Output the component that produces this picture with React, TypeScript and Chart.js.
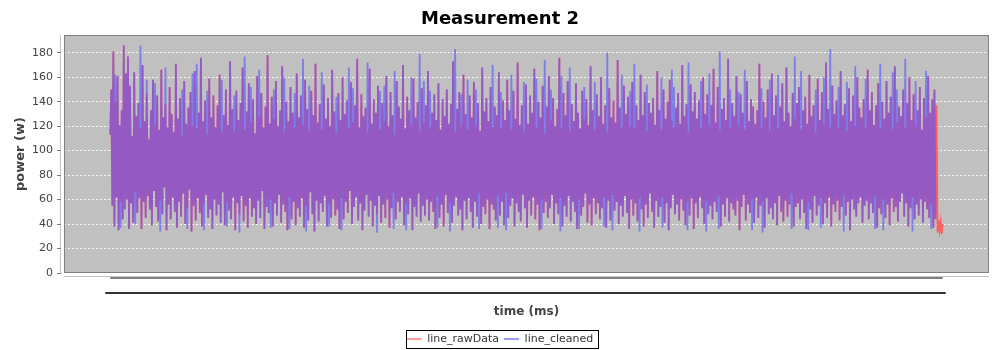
import React, { useEffect, useRef } from 'react';
import { Chart, registerables } from 'chart.js';

Chart.register(...registerables);

const chartTitle = 'Measurement 2';
const xAxisTitle = 'time (ms)';
const yAxisTitle = 'power (w)';
const seriesNames = ['line_rawData', 'line_cleaned'];
const yTickStep = 20;
const yMin = 0;
const yMax = 194.5;

const rawData: number[] = [
  113,150,55,181,38,140,62,161,35,121,58,133,44,186,52,163,60,177,36,153,
  57,112,41,164,66,128,49,139,61,118,36,170,58,124,45,147,63,109,52,133,
  39,158,67,121,54,145,42,117,59,166,48,127,70,138,35,119,56,152,44,130,
  62,115,50,171,37,126,58,143,46,112,65,157,40,122,53,135,68,148,34,120,
  55,165,43,118,61,131,49,176,38,124,57,141,64,113,45,159,52,127,36,145,
  60,119,47,137,56,162,41,115,66,129,39,150,58,121,51,173,44,134,62,116,
  35,149,57,125,48,139,63,168,42,117,55,132,37,155,61,123,46,142,53,114,
  40,161,59,128,45,147,67,119,36,136,54,178,49,122,60,144,38,126,57,157,
  47,120,64,133,41,169,56,115,50,140,35,124,62,152,44,131,58,118,39,163,
  53,127,46,145,61,121,37,158,55,134,43,116,66,149,48,129,34,171,59,123,
  42,138,57,117,50,154,63,126,38,143,56,120,45,166,60,132,47,114,52,147,
  36,125,61,160,44,130,58,141,49,118,67,156,40,123,54,137,62,175,43,119,
  57,146,35,128,51,135,64,115,46,167,59,122,38,142,55,131,48,153,63,117,
  41,139,56,124,45,161,60,120,37,148,53,129,66,113,44,157,58,136,50,126,
  62,170,39,118,57,144,48,133,61,121,35,159,54,127,46,140,65,116,42,151,
  55,123,47,137,60,165,43,119,58,131,50,146,36,125,63,155,45,117,56,142,
  38,128,64,150,49,122,57,138,41,173,55,115,62,134,47,148,52,120,35,162,
  59,130,44,117,61,145,50,127,37,156,58,121,46,139,65,116,40,168,54,132,
  48,143,60,124,36,152,56,119,52,136,43,129,63,164,47,118,58,141,39,125,
  66,158,45,133,55,117,61,149,38,126,57,172,50,121,42,137,64,115,53,154,
  37,122,59,145,47,131,62,167,44,118,56,140,35,127,60,153,49,114,58,136,
  45,161,53,125,64,143,40,120,57,134,48,176,61,119,38,147,55,129,46,157,
  63,116,42,138,58,124,50,155,36,131,60,118,47,149,54,126,65,142,41,121,
  56,169,39,133,61,117,48,146,57,128,44,160,53,122,62,137,37,115,59,151,
  43,127,64,141,51,123,58,174,40,135,55,119,46,153,63,130,49,144,36,120,
  60,156,47,118,57,137,42,125,61,162,52,129,38,148,56,116,45,139,65,131,
  50,143,37,121,59,165,46,133,54,117,62,150,41,126,57,140,35,158,53,124,
  64,119,48,135,56,147,43,122,60,170,51,128,39,138,58,115,47,154,61,132,
  36,148,57,126,45,141,62,118,53,160,40,130,59,146,48,121,55,137,44,167,
  58,123,50,152,63,117,38,134,56,143,46,125,61,175,42,119,57,139,52,128,
  47,161,59,120,35,146,54,131,64,117,43,157,56,124,49,142,60,136,41,122,
  62,133,45,171,55,119,58,140,37,127,61,150,48,116,53,163,44,129,57,145,
  39,118,63,136,50,155,42,124,59,168,46,131,56,120,65,147,38,126,54,139,
  57,152,44,117,60,133,49,144,36,122,58,162,52,128,41,137,63,115,47,159,
  55,125,61,148,40,121,57,172,45,134,62,119,38,153,56,130,50,141,59,118,
  43,165,54,129,64,138,47,116,58,151,35,124,60,145,52,120,46,160,57,135,
  62,127,41,142,55,119,59,166,44,133,57,148,49,121,63,137,37,155,53,118,
  48,140,60,126,45,157,56,131,39,144,61,117,50,169,54,123,42,136,58,128,
  65,150,46,119,57,139,38,160,53,125,62,146,44,121,56,133,47,152,60,117,
  41,143,58,127,52,161,45,131,56,142,37,150,44,137,33,43,35,42,32,40,
];

const cleanedData: number[] = [
  113,150,55,181,38,162,62,161,35,121,37,133,44,186,52,163,60,177,36,153,
  57,112,41,164,40,128,49,139,61,186,36,170,58,124,45,158,63,109,52,133,
  39,158,67,155,54,145,42,117,34,166,48,127,70,168,35,119,56,152,44,130,
  62,115,50,171,37,126,58,143,46,150,65,157,40,122,36,135,68,148,34,163,
  55,165,43,171,61,131,49,176,38,124,35,141,64,149,45,159,52,127,36,145,
  60,119,47,137,56,162,41,158,66,129,39,150,38,121,51,173,44,134,62,145,
  35,149,57,125,33,139,63,168,42,177,55,132,37,155,61,152,46,142,53,114,
  40,161,59,166,45,147,67,119,36,136,54,178,49,122,37,144,38,150,57,157,
  47,120,64,133,41,169,56,160,50,140,35,124,36,152,44,131,58,147,39,163,
  53,127,46,145,61,175,37,158,34,134,43,153,66,149,48,129,34,171,59,123,
  42,138,57,164,50,154,63,126,38,143,38,120,45,166,60,132,47,144,52,147,
  36,125,35,160,44,130,58,141,49,168,67,156,40,151,54,137,62,175,43,119,
  57,146,35,128,51,135,64,172,46,167,59,122,38,142,55,131,33,153,63,149,
  41,139,56,153,45,161,60,120,37,148,53,129,36,165,44,157,58,136,50,126,
  62,170,39,118,35,144,48,133,61,160,35,159,54,127,46,140,65,179,42,151,
  55,157,47,137,60,165,43,149,58,131,50,146,36,125,37,155,45,117,56,142,
  38,128,64,150,49,122,34,138,41,173,55,183,62,134,47,148,52,146,35,162,
  59,130,44,158,61,145,50,127,37,156,58,150,46,139,36,116,40,168,54,132,
  48,143,60,124,36,152,56,170,52,136,43,129,37,164,47,148,58,141,39,125,
  35,158,45,133,55,162,61,149,38,126,57,172,50,121,42,137,64,156,53,154,
  37,122,59,145,47,131,62,167,44,159,56,140,35,127,36,153,49,174,58,136,
  45,161,53,150,64,143,40,120,57,134,48,176,34,161,38,147,55,129,46,157,
  63,168,42,138,58,124,50,155,36,131,36,118,47,149,54,152,65,142,41,121,
  56,169,39,133,61,156,48,146,57,128,44,160,53,122,38,137,37,180,59,151,
  43,127,35,141,51,123,58,174,40,135,55,162,46,153,63,130,49,144,36,149,
  60,156,47,171,57,137,42,125,34,162,52,129,38,148,56,154,45,139,65,131,
  50,143,37,121,59,165,46,133,54,160,37,150,41,126,57,140,35,158,53,166,
  64,152,48,135,56,147,43,122,60,170,51,128,39,138,35,172,47,154,61,132,
  36,148,57,126,45,141,62,157,53,160,40,130,34,146,48,163,55,137,44,167,
  58,123,50,152,36,181,38,134,56,143,46,125,61,175,42,150,57,139,52,128,
  47,161,59,148,35,146,54,131,64,166,43,157,56,124,49,142,35,136,41,122,
  62,133,45,171,55,151,33,140,37,127,61,150,48,158,53,163,44,129,57,145,
  39,162,63,136,50,155,42,124,59,168,46,131,56,120,36,147,38,177,54,139,
  57,152,44,165,60,133,49,144,36,122,35,162,52,128,41,137,63,150,47,159,
  55,125,37,148,40,160,57,172,45,134,62,183,38,153,56,130,50,141,59,152,
  43,165,54,129,34,138,47,156,58,151,35,124,60,145,52,169,46,160,57,135,
  62,127,41,142,55,159,59,166,44,133,57,148,49,121,36,137,37,155,53,171,
  48,140,35,126,45,157,56,131,39,144,61,164,50,169,54,150,42,136,58,128,
  65,150,46,175,57,139,38,160,53,125,34,146,44,157,56,133,47,152,60,117,
  41,143,58,165,52,161,45,131,36,142,37,150,44,
];

const seriesLineColors = ['rgba(255,85,85,0.9)', 'rgba(85,85,255,0.62)'];
const seriesLegendColors = ['#ff9a9a', '#9a9aff'];

export default function App() {
  const ref = useRef<HTMLCanvasElement>(null);

  useEffect(() => {
    document.body.style.margin = '0';
    document.body.style.overflow = 'hidden';
    const canvas = ref.current;
    if (!canvas) return;

    const lastIndex = rawData.length - 1;
    const xMargin = (lastIndex * 0.05) / 0.9;

    const decor = {
      id: 'decor',
      beforeDraw(chart: any) {
        const { ctx, chartArea: a } = chart;
        ctx.save();
        ctx.fillStyle = '#C0C0C0';
        ctx.fillRect(a.left, a.top, a.right - a.left, a.bottom - a.top);
        ctx.restore();
      },
      afterDraw(chart: any) {
        const { ctx, chartArea: a, scales } = chart;
        const xs = scales.x;
        const ys = scales.y;
        ctx.save();
        ctx.lineWidth = 1;
        ctx.setLineDash([]);
        ctx.strokeStyle = '#808080';
        ctx.strokeRect(a.left + 0.5, a.top + 0.5, a.right - a.left - 1, a.bottom - a.top - 1);
        ctx.strokeStyle = '#c4c4c4';
        ctx.beginPath();
        ctx.moveTo(a.left - 3.5, a.top);
        ctx.lineTo(a.left - 3.5, a.bottom);
        ctx.stroke();
        ctx.strokeStyle = '#808080';
        ctx.beginPath();
        ys.ticks.forEach((t: any) => {
          const y = Math.round(ys.getPixelForValue(t.value) - 0.5) + 0.5;
          ctx.moveTo(a.left - 7, y);
          ctx.lineTo(a.left - 3, y);
        });
        ctx.stroke();
        ctx.strokeStyle = '#c4c4c4';
        ctx.beginPath();
        ctx.moveTo(a.left, a.bottom + 3.5);
        ctx.lineTo(a.right, a.bottom + 3.5);
        ctx.stroke();
        const x0 = xs.getPixelForValue(0);
        const x1 = xs.getPixelForValue(lastIndex);
        ctx.fillStyle = '#808080';
        ctx.fillRect(x0, a.bottom + 4, x1 - x0, 2);
        ctx.fillStyle = '#333333';
        ctx.fillRect(x0 - 5, a.bottom + 19, x1 - x0 + 8, 2);
        const hb = chart.legend && chart.legend.legendHitBoxes;
        if (hb && hb.length) {
          const left = Math.min(...hb.map((h: any) => h.left));
          const right = Math.max(...hb.map((h: any) => h.left + h.width));
          const top = hb[0].top;
          ctx.strokeStyle = '#000000';
          ctx.strokeRect(Math.round(left - 1) + 0.5, Math.round(top - 3.5) + 0.5, Math.round(right - left + 5), 18);
        }
        ctx.restore();
      },
    };

    Chart.defaults.font.family = "'DejaVu Sans', sans-serif";

    const chart = new Chart(canvas, {
      type: 'line',
      data: {
        datasets: [
          {
            label: seriesNames[0],
            data: rawData.map((y, i) => ({ x: i, y })),
            borderColor: seriesLineColors[0],
            backgroundColor: seriesLegendColors[0],
            borderWidth: 1.8,
            pointRadius: 0,
            tension: 0,
            fill: false,
            order: 2,
            yAxisID: 'y',
          },
          {
            label: seriesNames[1],
            data: cleanedData.map((y, i) => ({ x: i, y })),
            borderColor: seriesLineColors[1],
            backgroundColor: seriesLegendColors[1],
            borderWidth: 1.8,
            pointRadius: 0,
            tension: 0,
            fill: false,
            order: 1,
            yAxisID: 'y',
          },
        ],
      },
      options: {
        responsive: false,
        animation: false,
        devicePixelRatio: 1,
        events: [],
        layout: { padding: { top: 0, left: 0, right: 0, bottom: -4.5 } },
        scales: {
          x: {
            type: 'linear',
            min: -xMargin,
            max: lastIndex + xMargin,
            ticks: { display: false },
            grid: { display: false },
            border: { display: false },
            title: {
              display: true,
              text: xAxisTitle,
              color: '#444444',
              font: { size: 12, weight: 'bold' },
              padding: { top: 0, bottom: 9.3 },
            },
            afterFit: (s: any) => {
              s.height = 55.5;
            },
          },
          y: {
            type: 'linear',
            position: 'left',
            min: yMin,
            max: yMax,
            ticks: {
              stepSize: yTickStep,
              includeBounds: false,
              color: '#444444',
              font: { size: 11 },
              padding: 11,
            },
            grid: {
              color: 'rgba(255,255,255,0.85)',
              lineWidth: 1,
              drawTicks: false,
            },
            border: { display: false, dash: [2, 2] },
            title: {
              display: true,
              text: yAxisTitle,
              color: '#444444',
              font: { size: 13, weight: 'bold' },
              padding: { top: 13, bottom: 0 },
            },
            afterFit: (s: any) => {
              s.width = 64;
            },
          },
          y2: {
            type: 'linear',
            position: 'right',
            display: true,
            ticks: { display: false },
            grid: { display: false },
            border: { display: false },
            afterFit: (s: any) => {
              s.width = 11;
            },
          },
        },
        plugins: {
          title: {
            display: true,
            text: chartTitle,
            color: '#000000',
            font: { size: 18, weight: 'bold' },
            padding: { top: 9, bottom: 4.4 },
          },
          legend: {
            display: true,
            position: 'bottom',
            labels: {
              boxWidth: 15,
              boxHeight: 2,
              padding: 5,
              color: '#333333',
              font: { size: 11 },
              generateLabels: () =>
                seriesNames.map((name, i) => ({
                  text: name,
                  fillStyle: seriesLegendColors[i],
                  strokeStyle: seriesLegendColors[i],
                  lineWidth: 0,
                  hidden: false,
                  datasetIndex: i,
                  fontColor: '#333333',
                })),
            },
          },
          tooltip: { enabled: false },
        },
      },
      plugins: [decor],
    } as any);

    return () => chart.destroy();
  }, []);

  return <canvas ref={ref} width={1000} height={350} style={{ display: 'block' }} />;
}
